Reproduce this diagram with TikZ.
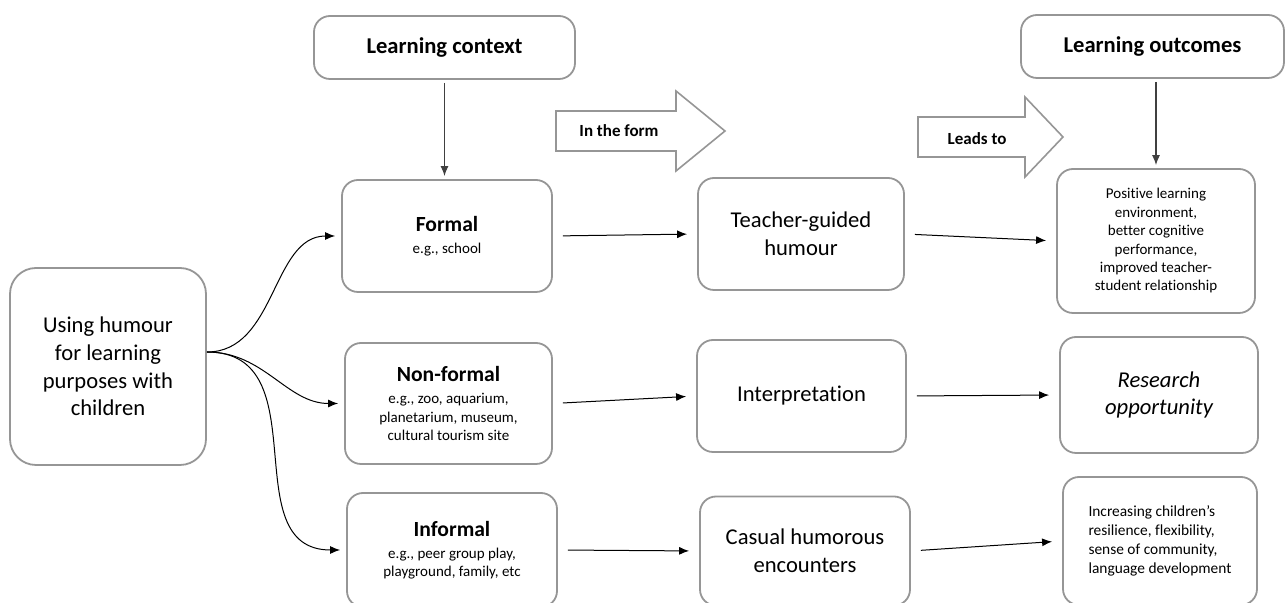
\documentclass[tikz,border=0pt]{standalone}
\usepackage{fontspec}
\setmainfont{Carlito}[Ligatures=NoCommon]
\usetikzlibrary{arrows.meta}

\definecolor{boxgray}{RGB}{150,150,150}
\newcommand{\kindfont}{\fontsize{10.8}{13}\selectfont\bfseries}

\begin{document}
\begin{tikzpicture}[x=0.5pt,y=-0.5pt,
  box/.style={draw=boxgray, line width=0.9pt, rounded corners=8pt, align=center, inner sep=2pt},
  bigfont/.style={font=\fontsize{11.3}{13.8}\selectfont},
  headfont/.style={font=\fontsize{11.3}{13.5}\selectfont\bfseries},
  smallfont/.style={font=\fontsize{7.5}{9.2}\selectfont},
  link/.style={-{Latex[length=5pt,width=4pt]}, line width=0.5pt, shorten <=5pt, shorten >=5pt},
  vlink/.style={-{Latex[length=5pt,width=4pt]}, draw=black!75, line width=0.6pt, shorten <=1.5pt, shorten >=1.5pt},
  blockarrow/.style={draw=boxgray, line width=0.8pt, fill=white},
  arrowtext/.style={font=\fontsize{8.5}{10}\selectfont\bfseries}]

\useasboundingbox (0,0) rectangle (1287,603);

% start box
\node[box, rounded corners=13pt, minimum width=98pt, minimum height=98.5pt, bigfont] (humour) at (108,366.5)
  {Using humour\\for learning\\purposes with\\children};

% headings
\node[box, minimum width=130.5pt, minimum height=31.5pt, headfont] (context) at (444.5,47.5) {Learning context};
\node[box, minimum width=131.5pt, minimum height=31.5pt, headfont] (outcomes) at (1152.5,46.5) {Learning outcomes};

% learning contexts
\node[box, minimum width=105pt, minimum height=56pt, smallfont] (formal) at (447,236)
  {{\kindfont Formal}\\[1.8pt]e.g., school};
\node[box, minimum width=103.5pt, minimum height=60.5pt, smallfont] (nonformal) at (448.5,403.5)
  {{\kindfont Non-formal}\\[1.8pt]e.g., zoo, aquarium,\\planetarium, museum,\\cultural tourism site};
\node[box, minimum width=105pt, minimum height=57pt, smallfont] (informal) at (452,550)
  {{\kindfont Informal}\\[1.8pt]e.g., peer group play,\\playground, family, etc};

% forms of humour
\node[box, minimum width=103pt, minimum height=56pt, bigfont] (teacher) at (801,234) {Teacher-guided\\humour};
\node[box, minimum width=104.5pt, minimum height=56pt, bigfont] (interp) at (801.5,396) {Interpretation};
\node[box, minimum width=105pt, minimum height=54.5pt, bigfont] (casual) at (805,551) {Casual humorous\\encounters};

% outcomes
\node[box, minimum width=99pt, minimum height=72pt, smallfont] (positive) at (1156,241)
  {Positive learning\\environment,\\better cognitive\\performance,\\improved teacher-\\student relationship};
\node[box, minimum width=99pt, minimum height=58pt, bigfont] (research) at (1159,395) {\itshape Research\\\itshape opportunity};
\node[box, minimum width=97pt, minimum height=64pt, align=left, font=\fontsize{7.7}{9.5}\selectfont] (increasing) at (1160,541)
  {Increasing children’s\\resilience, flexibility,\\sense of community,\\language development};

% block arrows
\draw[blockarrow] (556,111) -- (676,111) -- (676,91) -- (725,131) -- (676,171) -- (676,151) -- (556,151) -- cycle;
\node[arrowtext] (inform) at (619,131) {In the form};
\draw[blockarrow] (918,117) -- (1025,117) -- (1025,97) -- (1063,137) -- (1025,177) -- (1025,157) -- (918,157) -- cycle;
\node[arrowtext] (leadsto) at (977,139) {Leads to};

% vertical arrows
\draw[vlink] (context.south) -- (context.south |- formal.north);
\draw[vlink] (outcomes.south -| positive.north) -- (positive.north);

% split into contexts
\coordinate (fork) at (207,352);
\draw[link, shorten <=0pt, shorten >=3pt] (fork) to[out=0, in=180] (formal.west);
\draw[link, shorten <=0pt, shorten >=3pt] (fork) to[out=0, in=180] (nonformal.west);
\draw[link, shorten <=0pt, shorten >=3pt] (fork) to[out=0, in=180, looseness=1.2] (informal.west);

% rows
\draw[link] (formal.east) -- (teacher.west);
\draw[link] (teacher.east) -- (positive.west);
\draw[link] (nonformal.east) -- (interp.west);
\draw[link] (interp.east) -- (research.west);
\draw[link] (informal.east) -- (casual.west);
\draw[link] (casual.east) -- (increasing.west);

\end{tikzpicture}
\end{document}
